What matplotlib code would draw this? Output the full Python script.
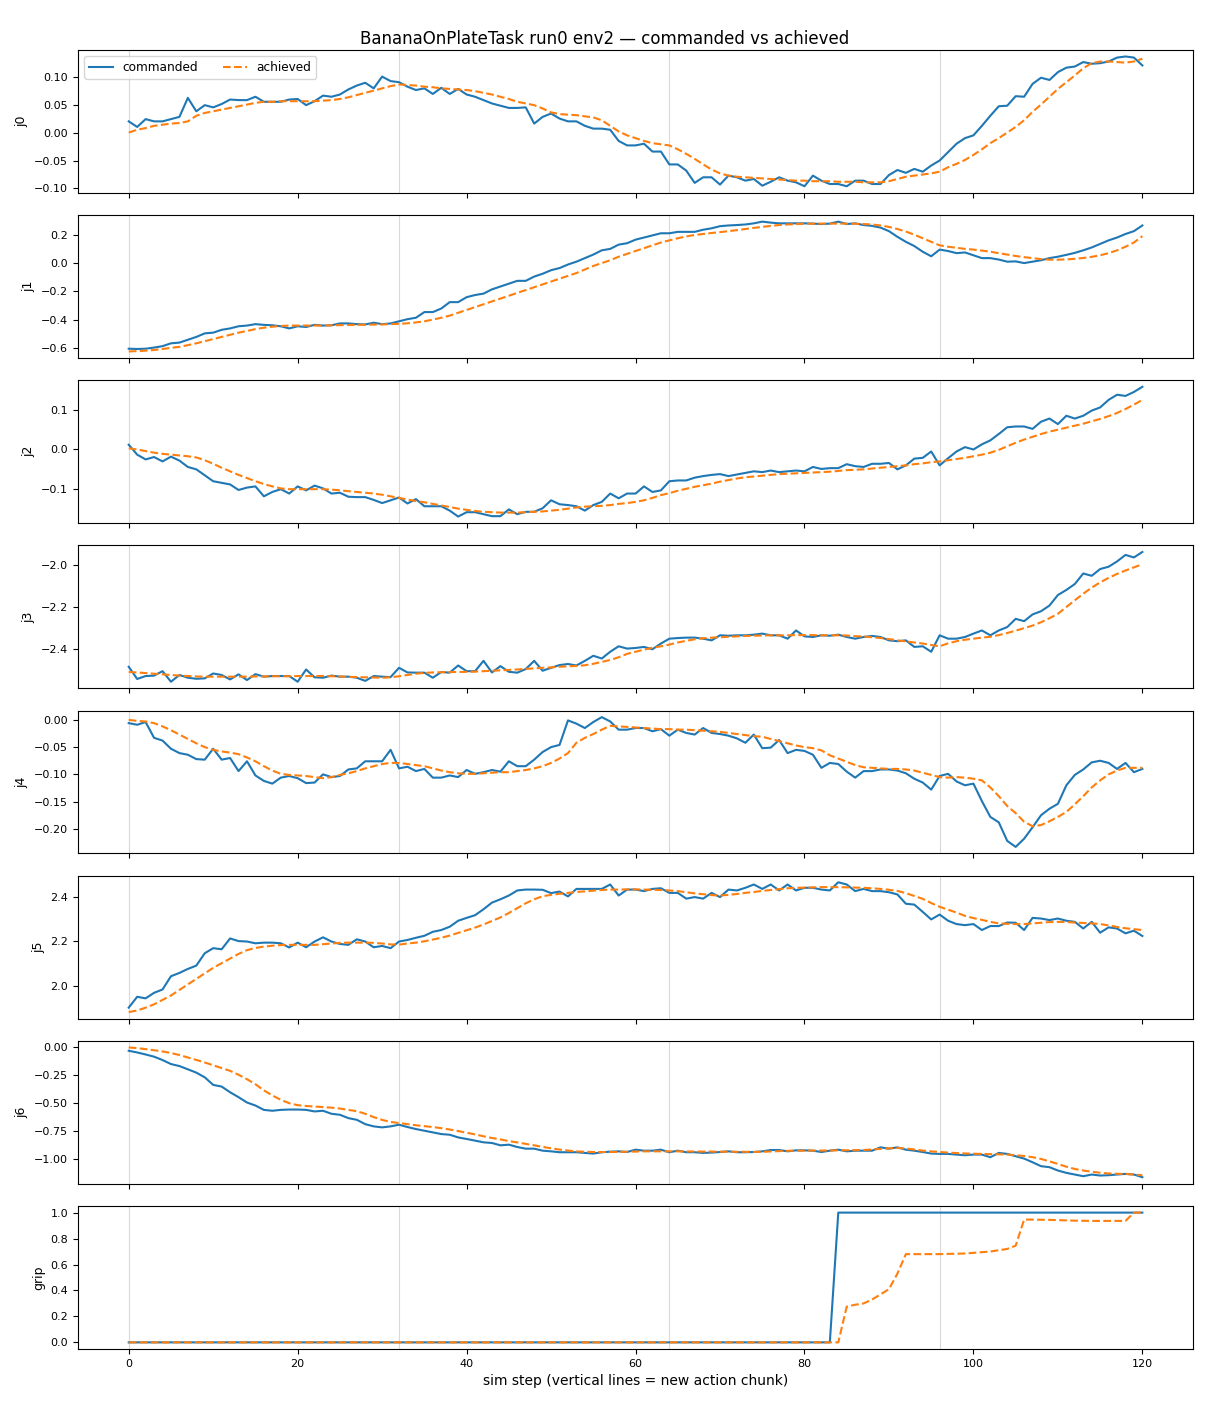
import matplotlib
matplotlib.use("Agg")
import matplotlib.pyplot as plt

# steps 0..120, one value per sim step
steps = list(range(121))
chunk_starts = [0, 32, 64, 96]
joint_names = ["j0", "j1", "j2", "j3", "j4", "j5", "j6", "grip"]

j0_cmd = [0.020, 0.010, 0.024, 0.020, 0.020, 0.024, 0.028, 0.062, 0.038, 0.049,
          0.045, 0.051, 0.059, 0.058, 0.058, 0.064, 0.055, 0.055, 0.055, 0.059,
          0.060, 0.049, 0.056, 0.066, 0.064, 0.068, 0.077, 0.084, 0.089, 0.079,
          0.100, 0.092, 0.090, 0.082, 0.076, 0.079, 0.069, 0.080, 0.069, 0.078,
          0.068, 0.064, 0.058, 0.052, 0.048, 0.044, 0.044, 0.045, 0.016, 0.028,
          0.034, 0.025, 0.020, 0.020, 0.012, 0.007, 0.007, 0.005, -0.015, -0.023,
          -0.023, -0.020, -0.034, -0.034, -0.057, -0.057, -0.068, -0.090, -0.080, -0.080,
          -0.093, -0.077, -0.080, -0.086, -0.083, -0.095, -0.088, -0.080, -0.086, -0.089,
          -0.096, -0.077, -0.086, -0.092, -0.092, -0.096, -0.086, -0.086, -0.092, -0.092,
          -0.076, -0.067, -0.072, -0.065, -0.070, -0.059, -0.050, -0.035, -0.020, -0.010,
          -0.005, 0.012, 0.030, 0.047, 0.048, 0.065, 0.064, 0.087, 0.098, 0.094,
          0.108, 0.116, 0.118, 0.126, 0.123, 0.124, 0.127, 0.134, 0.136, 0.134,
          0.120]
j0_ach = [0.000, 0.005, 0.008, 0.012, 0.014, 0.016, 0.017, 0.020, 0.030, 0.035,
          0.038, 0.041, 0.044, 0.047, 0.050, 0.053, 0.055, 0.055, 0.056, 0.056,
          0.056, 0.056, 0.056, 0.057, 0.058, 0.060, 0.063, 0.067, 0.071, 0.075,
          0.079, 0.083, 0.086, 0.085, 0.084, 0.082, 0.081, 0.079, 0.078, 0.077,
          0.076, 0.074, 0.071, 0.068, 0.064, 0.060, 0.055, 0.052, 0.049, 0.043,
          0.036, 0.033, 0.032, 0.031, 0.029, 0.027, 0.022, 0.012, 0.002, -0.005,
          -0.010, -0.015, -0.019, -0.021, -0.023, -0.030, -0.038, -0.047, -0.057, -0.066,
          -0.073, -0.077, -0.079, -0.080, -0.081, -0.082, -0.083, -0.084, -0.085, -0.086,
          -0.086, -0.087, -0.087, -0.087, -0.088, -0.088, -0.088, -0.089, -0.089, -0.089,
          -0.087, -0.083, -0.079, -0.077, -0.075, -0.073, -0.070, -0.062, -0.056, -0.049,
          -0.040, -0.030, -0.019, -0.010, 0.000, 0.010, 0.022, 0.037, 0.050, 0.064,
          0.078, 0.090, 0.102, 0.115, 0.124, 0.127, 0.127, 0.126, 0.125, 0.127,
          0.132]

j1_cmd = [-0.603, -0.605, -0.603, -0.595, -0.585, -0.565, -0.560, -0.540, -0.520, -0.495,
          -0.490, -0.470, -0.460, -0.445, -0.440, -0.430, -0.435, -0.438, -0.445, -0.460,
          -0.445, -0.450, -0.435, -0.440, -0.438, -0.425, -0.425, -0.430, -0.432, -0.420,
          -0.430, -0.425, -0.410, -0.395, -0.385, -0.345, -0.345, -0.320, -0.275, -0.275,
          -0.240, -0.225, -0.215, -0.185, -0.165, -0.145, -0.125, -0.125, -0.095, -0.075,
          -0.050, -0.035, -0.010, 0.010, 0.035, 0.060, 0.090, 0.100, 0.130, 0.140,
          0.165, 0.180, 0.195, 0.210, 0.210, 0.220, 0.220, 0.220, 0.235, 0.245,
          0.260, 0.265, 0.268, 0.272, 0.280, 0.292, 0.285, 0.280, 0.280, 0.280,
          0.280, 0.278, 0.275, 0.278, 0.292, 0.275, 0.280, 0.268, 0.262, 0.250,
          0.225, 0.185, 0.150, 0.120, 0.080, 0.048, 0.095, 0.085, 0.070, 0.075,
          0.055, 0.035, 0.035, 0.025, 0.010, 0.012, 0.000, 0.010, 0.020, 0.035,
          0.045, 0.058, 0.072, 0.090, 0.110, 0.135, 0.160, 0.180, 0.205, 0.225,
          0.265]
j1_ach = [-0.622, -0.620, -0.617, -0.612, -0.605, -0.597, -0.590, -0.578, -0.565, -0.550,
          -0.535, -0.520, -0.505, -0.490, -0.478, -0.465, -0.455, -0.448, -0.443, -0.440,
          -0.440, -0.440, -0.440, -0.440, -0.438, -0.437, -0.436, -0.435, -0.434, -0.433,
          -0.432, -0.430, -0.428, -0.424, -0.418, -0.410, -0.398, -0.385, -0.370, -0.350,
          -0.330, -0.310, -0.290, -0.270, -0.250, -0.230, -0.210, -0.190, -0.170, -0.150,
          -0.130, -0.110, -0.090, -0.070, -0.045, -0.020, 0.000, 0.020, 0.045, 0.065,
          0.085, 0.105, 0.125, 0.145, 0.160, 0.175, 0.188, 0.198, 0.205, 0.212,
          0.218, 0.225, 0.232, 0.240, 0.248, 0.255, 0.262, 0.268, 0.272, 0.275,
          0.277, 0.278, 0.278, 0.278, 0.278, 0.278, 0.277, 0.275, 0.272, 0.265,
          0.255, 0.240, 0.222, 0.200, 0.175, 0.150, 0.125, 0.115, 0.108, 0.100,
          0.095, 0.088, 0.080, 0.070, 0.060, 0.050, 0.042, 0.035, 0.028, 0.024,
          0.024, 0.026, 0.030, 0.036, 0.044, 0.055, 0.070, 0.090, 0.115, 0.145,
          0.190]

j2_cmd = [0.012, -0.013, -0.025, -0.019, -0.030, -0.018, -0.028, -0.044, -0.050, -0.065,
          -0.080, -0.084, -0.088, -0.102, -0.096, -0.093, -0.118, -0.107, -0.100, -0.111,
          -0.093, -0.103, -0.091, -0.098, -0.111, -0.109, -0.119, -0.120, -0.120, -0.127,
          -0.135, -0.128, -0.121, -0.136, -0.125, -0.143, -0.143, -0.143, -0.154, -0.169,
          -0.158, -0.158, -0.163, -0.168, -0.168, -0.151, -0.163, -0.157, -0.157, -0.148,
          -0.128, -0.138, -0.140, -0.143, -0.154, -0.140, -0.132, -0.111, -0.123, -0.111,
          -0.111, -0.093, -0.107, -0.103, -0.080, -0.078, -0.078, -0.071, -0.067, -0.064,
          -0.062, -0.067, -0.063, -0.059, -0.055, -0.057, -0.053, -0.057, -0.055, -0.053,
          -0.055, -0.044, -0.049, -0.047, -0.047, -0.037, -0.042, -0.044, -0.036, -0.036,
          -0.034, -0.050, -0.040, -0.023, -0.021, -0.005, -0.040, -0.022, -0.005, 0.006,
          0.000, 0.013, 0.023, 0.039, 0.056, 0.058, 0.058, 0.052, 0.070, 0.078,
          0.064, 0.085, 0.078, 0.085, 0.098, 0.106, 0.125, 0.138, 0.135, 0.145,
          0.158]
j2_ach = [0.003, 0.000, -0.004, -0.008, -0.011, -0.013, -0.015, -0.017, -0.020, -0.027,
          -0.036, -0.046, -0.055, -0.064, -0.072, -0.080, -0.087, -0.093, -0.098, -0.100,
          -0.100, -0.100, -0.100, -0.100, -0.101, -0.103, -0.105, -0.107, -0.109, -0.111,
          -0.114, -0.118, -0.122, -0.126, -0.130, -0.133, -0.137, -0.141, -0.145, -0.149,
          -0.152, -0.155, -0.157, -0.158, -0.159, -0.159, -0.159, -0.158, -0.157, -0.156,
          -0.154, -0.152, -0.149, -0.146, -0.144, -0.143, -0.142, -0.140, -0.137, -0.135,
          -0.132, -0.128, -0.122, -0.115, -0.110, -0.104, -0.099, -0.094, -0.090, -0.086,
          -0.081, -0.077, -0.073, -0.070, -0.068, -0.066, -0.064, -0.062, -0.061, -0.060,
          -0.059, -0.058, -0.057, -0.056, -0.054, -0.052, -0.051, -0.050, -0.048, -0.046,
          -0.044, -0.042, -0.040, -0.037, -0.035, -0.032, -0.030, -0.027, -0.024, -0.021,
          -0.017, -0.013, -0.008, -0.001, 0.008, 0.017, 0.025, 0.032, 0.039, 0.045,
          0.050, 0.055, 0.060, 0.065, 0.071, 0.077, 0.084, 0.092, 0.102, 0.113,
          0.125]

j3_cmd = [-2.483, -2.541, -2.527, -2.525, -2.504, -2.554, -2.522, -2.535, -2.540, -2.538,
          -2.515, -2.522, -2.543, -2.519, -2.546, -2.518, -2.530, -2.527, -2.527, -2.527,
          -2.554, -2.496, -2.533, -2.535, -2.525, -2.530, -2.530, -2.535, -2.550, -2.527,
          -2.530, -2.532, -2.488, -2.510, -2.511, -2.511, -2.535, -2.508, -2.511, -2.477,
          -2.504, -2.504, -2.455, -2.510, -2.480, -2.507, -2.511, -2.494, -2.455, -2.502,
          -2.488, -2.475, -2.470, -2.477, -2.455, -2.431, -2.444, -2.412, -2.386, -2.397,
          -2.394, -2.389, -2.400, -2.373, -2.350, -2.347, -2.345, -2.345, -2.350, -2.358,
          -2.334, -2.336, -2.334, -2.334, -2.331, -2.326, -2.334, -2.334, -2.350, -2.311,
          -2.339, -2.342, -2.334, -2.336, -2.331, -2.342, -2.350, -2.342, -2.337, -2.342,
          -2.358, -2.362, -2.358, -2.389, -2.386, -2.412, -2.334, -2.350, -2.350, -2.342,
          -2.326, -2.311, -2.334, -2.311, -2.295, -2.256, -2.267, -2.235, -2.220, -2.193,
          -2.143, -2.119, -2.091, -2.041, -2.052, -2.020, -2.009, -1.984, -1.953, -1.965,
          -1.939]
j3_ach = [-2.508, -2.510, -2.513, -2.516, -2.519, -2.522, -2.525, -2.527, -2.529, -2.530,
          -2.530, -2.530, -2.530, -2.530, -2.530, -2.529, -2.529, -2.528, -2.528, -2.528,
          -2.527, -2.527, -2.527, -2.527, -2.528, -2.529, -2.531, -2.532, -2.533, -2.534,
          -2.535, -2.533, -2.528, -2.522, -2.516, -2.512, -2.510, -2.509, -2.508, -2.508,
          -2.507, -2.506, -2.504, -2.502, -2.500, -2.498, -2.496, -2.493, -2.491, -2.488,
          -2.486, -2.483, -2.481, -2.479, -2.476, -2.469, -2.460, -2.451, -2.438, -2.422,
          -2.412, -2.402, -2.393, -2.386, -2.378, -2.368, -2.360, -2.353, -2.348, -2.345,
          -2.343, -2.341, -2.339, -2.337, -2.336, -2.335, -2.334, -2.334, -2.334, -2.333,
          -2.333, -2.333, -2.334, -2.334, -2.334, -2.335, -2.338, -2.340, -2.343, -2.347,
          -2.352, -2.358, -2.363, -2.368, -2.373, -2.380, -2.386, -2.372, -2.362, -2.355,
          -2.350, -2.345, -2.341, -2.333, -2.323, -2.312, -2.300, -2.288, -2.272, -2.253,
          -2.232, -2.200, -2.168, -2.137, -2.108, -2.083, -2.062, -2.043, -2.027, -2.012,
          -1.997]

j4_cmd = [-0.006, -0.009, -0.004, -0.033, -0.038, -0.053, -0.061, -0.064, -0.072, -0.073,
          -0.053, -0.073, -0.070, -0.094, -0.076, -0.102, -0.112, -0.117, -0.106, -0.103,
          -0.107, -0.116, -0.115, -0.100, -0.105, -0.103, -0.091, -0.089, -0.076, -0.076,
          -0.076, -0.055, -0.089, -0.086, -0.094, -0.090, -0.106, -0.106, -0.102, -0.105,
          -0.092, -0.099, -0.096, -0.092, -0.095, -0.076, -0.085, -0.085, -0.073, -0.059,
          -0.050, -0.046, -0.001, -0.007, -0.015, -0.004, 0.005, -0.003, -0.018, -0.018,
          -0.015, -0.015, -0.021, -0.017, -0.029, -0.018, -0.024, -0.027, -0.015, -0.024,
          -0.026, -0.029, -0.034, -0.042, -0.027, -0.052, -0.051, -0.037, -0.061, -0.055,
          -0.057, -0.064, -0.088, -0.079, -0.081, -0.095, -0.106, -0.094, -0.094, -0.091,
          -0.091, -0.093, -0.098, -0.108, -0.115, -0.128, -0.103, -0.099, -0.113, -0.120,
          -0.117, -0.149, -0.178, -0.188, -0.222, -0.233, -0.218, -0.197, -0.175, -0.163,
          -0.154, -0.120, -0.101, -0.091, -0.078, -0.075, -0.079, -0.090, -0.079, -0.096,
          -0.090]
j4_ach = [0.000, -0.002, -0.003, -0.006, -0.012, -0.019, -0.027, -0.035, -0.043, -0.050,
          -0.055, -0.058, -0.060, -0.063, -0.069, -0.076, -0.085, -0.093, -0.099, -0.101,
          -0.102, -0.103, -0.105, -0.107, -0.105, -0.101, -0.098, -0.094, -0.089, -0.085,
          -0.081, -0.079, -0.079, -0.081, -0.083, -0.085, -0.089, -0.093, -0.096, -0.098,
          -0.099, -0.099, -0.098, -0.097, -0.096, -0.096, -0.094, -0.092, -0.089, -0.085,
          -0.079, -0.071, -0.061, -0.042, -0.033, -0.026, -0.018, -0.011, -0.012, -0.013,
          -0.014, -0.015, -0.016, -0.017, -0.017, -0.018, -0.018, -0.019, -0.020, -0.021,
          -0.022, -0.024, -0.026, -0.028, -0.030, -0.031, -0.035, -0.039, -0.043, -0.047,
          -0.050, -0.052, -0.056, -0.065, -0.071, -0.077, -0.083, -0.087, -0.088, -0.089,
          -0.090, -0.090, -0.091, -0.093, -0.097, -0.101, -0.105, -0.106, -0.105, -0.106,
          -0.108, -0.111, -0.124, -0.140, -0.158, -0.171, -0.187, -0.195, -0.193, -0.186,
          -0.178, -0.169, -0.155, -0.140, -0.124, -0.111, -0.100, -0.093, -0.088, -0.088,
          -0.088]

j5_cmd = [1.900, 1.949, 1.942, 1.967, 1.982, 2.042, 2.057, 2.075, 2.090, 2.146,
          2.169, 2.164, 2.213, 2.201, 2.199, 2.191, 2.194, 2.194, 2.191, 2.172,
          2.194, 2.173, 2.199, 2.218, 2.199, 2.188, 2.184, 2.209, 2.199, 2.173,
          2.179, 2.169, 2.199, 2.206, 2.216, 2.225, 2.243, 2.251, 2.266, 2.293,
          2.306, 2.318, 2.345, 2.375, 2.390, 2.407, 2.430, 2.434, 2.434, 2.433,
          2.418, 2.425, 2.403, 2.437, 2.437, 2.437, 2.437, 2.457, 2.407, 2.434,
          2.434, 2.427, 2.437, 2.440, 2.419, 2.419, 2.393, 2.400, 2.393, 2.419,
          2.400, 2.434, 2.430, 2.442, 2.457, 2.437, 2.457, 2.430, 2.457, 2.430,
          2.442, 2.442, 2.434, 2.430, 2.467, 2.457, 2.427, 2.437, 2.427, 2.427,
          2.422, 2.412, 2.370, 2.366, 2.333, 2.299, 2.321, 2.293, 2.278, 2.273,
          2.278, 2.251, 2.269, 2.269, 2.285, 2.284, 2.251, 2.306, 2.303, 2.296,
          2.303, 2.293, 2.288, 2.258, 2.288, 2.239, 2.263, 2.258, 2.236, 2.248,
          2.224]
j5_ach = [1.880, 1.887, 1.900, 1.915, 1.935, 1.955, 1.980, 2.005, 2.030, 2.055,
          2.080, 2.101, 2.122, 2.143, 2.160, 2.170, 2.176, 2.180, 2.183, 2.184,
          2.184, 2.184, 2.184, 2.187, 2.190, 2.193, 2.194, 2.194, 2.194, 2.193,
          2.190, 2.186, 2.185, 2.190, 2.194, 2.200, 2.208, 2.216, 2.226, 2.238,
          2.250, 2.262, 2.276, 2.292, 2.308, 2.328, 2.350, 2.372, 2.390, 2.404,
          2.410, 2.415, 2.419, 2.423, 2.426, 2.429, 2.432, 2.434, 2.434, 2.435,
          2.435, 2.434, 2.433, 2.432, 2.430, 2.427, 2.422, 2.417, 2.413, 2.409,
          2.407, 2.410, 2.414, 2.419, 2.423, 2.428, 2.432, 2.436, 2.440, 2.442,
          2.443, 2.444, 2.445, 2.445, 2.445, 2.444, 2.443, 2.442, 2.440, 2.437,
          2.433, 2.428, 2.418, 2.405, 2.392, 2.373, 2.356, 2.343, 2.330, 2.315,
          2.305, 2.297, 2.288, 2.281, 2.279, 2.278, 2.278, 2.281, 2.284, 2.287,
          2.288, 2.287, 2.285, 2.283, 2.281, 2.278, 2.272, 2.265, 2.259, 2.255,
          2.251]

j6_cmd = [-0.030, -0.045, -0.063, -0.083, -0.113, -0.149, -0.167, -0.196, -0.226, -0.268,
          -0.336, -0.351, -0.402, -0.446, -0.494, -0.521, -0.560, -0.568, -0.560, -0.557,
          -0.557, -0.560, -0.574, -0.568, -0.595, -0.604, -0.634, -0.649, -0.688, -0.708,
          -0.717, -0.708, -0.693, -0.714, -0.732, -0.747, -0.762, -0.777, -0.783, -0.807,
          -0.821, -0.836, -0.851, -0.857, -0.878, -0.872, -0.893, -0.908, -0.908, -0.926,
          -0.932, -0.940, -0.940, -0.940, -0.946, -0.952, -0.940, -0.935, -0.932, -0.938,
          -0.917, -0.926, -0.926, -0.917, -0.940, -0.926, -0.940, -0.940, -0.946, -0.943,
          -0.938, -0.932, -0.940, -0.940, -0.938, -0.932, -0.920, -0.920, -0.932, -0.923,
          -0.923, -0.926, -0.938, -0.926, -0.917, -0.932, -0.926, -0.926, -0.926, -0.896,
          -0.908, -0.896, -0.917, -0.926, -0.938, -0.952, -0.955, -0.955, -0.961, -0.967,
          -0.961, -0.961, -0.985, -0.946, -0.955, -0.976, -0.997, -1.030, -1.065, -1.074,
          -1.104, -1.125, -1.140, -1.155, -1.140, -1.149, -1.146, -1.140, -1.134, -1.140,
          -1.164]
j6_ach = [0.000, -0.006, -0.015, -0.025, -0.036, -0.050, -0.068, -0.090, -0.112, -0.135,
          -0.160, -0.185, -0.210, -0.245, -0.285, -0.330, -0.385, -0.430, -0.470, -0.500,
          -0.518, -0.525, -0.530, -0.535, -0.540, -0.548, -0.560, -0.572, -0.595, -0.625,
          -0.650, -0.668, -0.678, -0.688, -0.698, -0.706, -0.714, -0.724, -0.736, -0.750,
          -0.765, -0.780, -0.797, -0.812, -0.825, -0.840, -0.852, -0.865, -0.878, -0.892,
          -0.905, -0.916, -0.925, -0.932, -0.936, -0.938, -0.938, -0.938, -0.937, -0.935,
          -0.934, -0.932, -0.932, -0.932, -0.932, -0.932, -0.933, -0.933, -0.934, -0.934,
          -0.935, -0.935, -0.936, -0.936, -0.937, -0.936, -0.933, -0.930, -0.927, -0.926,
          -0.926, -0.925, -0.925, -0.924, -0.923, -0.922, -0.921, -0.920, -0.915, -0.910,
          -0.905, -0.902, -0.906, -0.915, -0.925, -0.932, -0.938, -0.943, -0.947, -0.951,
          -0.953, -0.955, -0.957, -0.959, -0.961, -0.966, -0.974, -0.984, -1.000, -1.022,
          -1.045, -1.070, -1.090, -1.104, -1.115, -1.124, -1.130, -1.133, -1.135, -1.140,
          -1.146]

grip_cmd = [0.0, 0.0, 0.0, 0.0, 0.0, 0.0, 0.0, 0.0, 0.0, 0.0,
            0.0, 0.0, 0.0, 0.0, 0.0, 0.0, 0.0, 0.0, 0.0, 0.0,
            0.0, 0.0, 0.0, 0.0, 0.0, 0.0, 0.0, 0.0, 0.0, 0.0,
            0.0, 0.0, 0.0, 0.0, 0.0, 0.0, 0.0, 0.0, 0.0, 0.0,
            0.0, 0.0, 0.0, 0.0, 0.0, 0.0, 0.0, 0.0, 0.0, 0.0,
            0.0, 0.0, 0.0, 0.0, 0.0, 0.0, 0.0, 0.0, 0.0, 0.0,
            0.0, 0.0, 0.0, 0.0, 0.0, 0.0, 0.0, 0.0, 0.0, 0.0,
            0.0, 0.0, 0.0, 0.0, 0.0, 0.0, 0.0, 0.0, 0.0, 0.0,
            0.0, 0.0, 0.0, 0.0, 1.0, 1.0, 1.0, 1.0, 1.0, 1.0,
            1.0, 1.0, 1.0, 1.0, 1.0, 1.0, 1.0, 1.0, 1.0, 1.0,
            1.0, 1.0, 1.0, 1.0, 1.0, 1.0, 1.0, 1.0, 1.0, 1.0,
            1.0, 1.0, 1.0, 1.0, 1.0, 1.0, 1.0, 1.0, 1.0, 1.0,
            1.0]
grip_ach = [0.0, 0.0, 0.0, 0.0, 0.0, 0.0, 0.0, 0.0, 0.0, 0.0,
            0.0, 0.0, 0.0, 0.0, 0.0, 0.0, 0.0, 0.0, 0.0, 0.0,
            0.0, 0.0, 0.0, 0.0, 0.0, 0.0, 0.0, 0.0, 0.0, 0.0,
            0.0, 0.0, 0.0, 0.0, 0.0, 0.0, 0.0, 0.0, 0.0, 0.0,
            0.0, 0.0, 0.0, 0.0, 0.0, 0.0, 0.0, 0.0, 0.0, 0.0,
            0.0, 0.0, 0.0, 0.0, 0.0, 0.0, 0.0, 0.0, 0.0, 0.0,
            0.0, 0.0, 0.0, 0.0, 0.0, 0.0, 0.0, 0.0, 0.0, 0.0,
            0.0, 0.0, 0.0, 0.0, 0.0, 0.0, 0.0, 0.0, 0.0, 0.0,
            0.0, 0.0, 0.0, 0.0, 0.0, 0.276, 0.29, 0.30, 0.33, 0.37,
            0.41, 0.53, 0.68, 0.68, 0.68, 0.68, 0.68, 0.682, 0.683, 0.685,
            0.69, 0.695, 0.70, 0.71, 0.72, 0.745, 0.946, 0.946, 0.945, 0.944,
            0.942, 0.940, 0.938, 0.937, 0.936, 0.936, 0.936, 0.936, 0.936, 1.0,
            1.0]

commanded = [j0_cmd, j1_cmd, j2_cmd, j3_cmd, j4_cmd, j5_cmd, j6_cmd, grip_cmd]
achieved = [j0_ach, j1_ach, j2_ach, j3_ach, j4_ach, j5_ach, j6_ach, grip_ach]

for c, a in zip(commanded, achieved):
    assert len(c) == len(steps) and len(a) == len(steps), (len(c), len(a))

plt.rcParams['xtick.labelsize'] = 8
plt.rcParams['ytick.labelsize'] = 8

fig, axes = plt.subplots(8, 1, figsize=(12.1, 14.08), dpi=100, sharex=True)
for i, ax in enumerate(axes):
    for s in chunk_starts:
        ax.axvline(s, color='0.85', linewidth=0.8, zorder=0)
    ax.plot(steps, commanded[i], color='tab:blue', linewidth=1.5, label='commanded')
    ax.plot(steps, achieved[i], color='tab:orange', linestyle='--', linewidth=1.5, label='achieved')
    ax.set_ylabel(joint_names[i], fontsize=9)

axes[0].legend(loc='upper left', ncol=2, fontsize=8.7)
axes[-1].set_xlabel('sim step (vertical lines = new action chunk)', fontsize=10)
fig.suptitle('BananaOnPlateTask run0 env2 — commanded vs achieved', fontsize=12, y=0.979)
fig.subplots_adjust(left=0.0645, right=0.986, top=0.9645, bottom=0.042, hspace=0.157)
fig.savefig('out.png', dpi=100)
